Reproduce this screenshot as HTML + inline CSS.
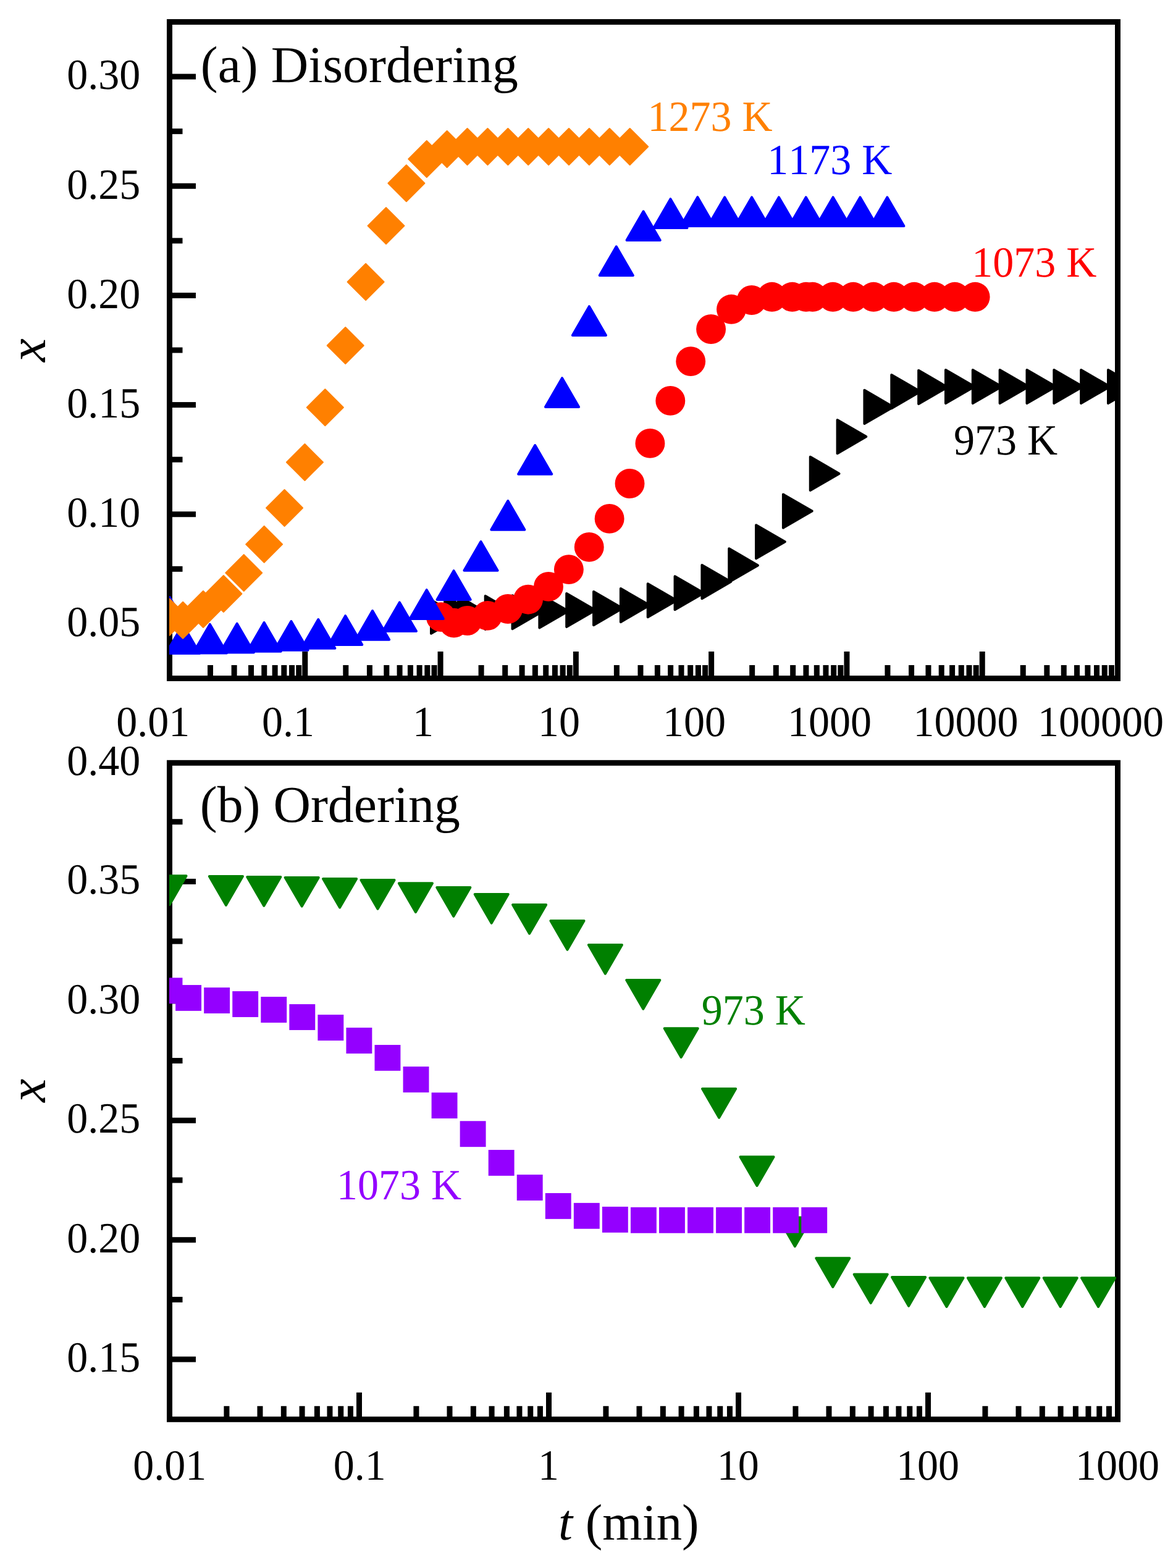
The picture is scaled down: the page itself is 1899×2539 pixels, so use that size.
<!DOCTYPE html>
<html lang="en"><head><meta charset="utf-8"><title>Disordering and ordering kinetics</title>
<style>html,body{margin:0;padding:0;background:#fff;overflow:hidden;width:1899px;height:2539px}svg{display:block}text{white-space:pre;font-kerning:none;font-variant-ligatures:none;text-rendering:geometricPrecision}</style>
</head><body>
<svg width="1899" height="2539" viewBox="0 0 1899 2539" font-family='"Liberation Serif", serif' role="img" aria-label="Disordering and ordering kinetics: x versus t (min)">
<rect width="1899" height="2539" fill="#fff"/>
<defs>
<clipPath id="ca"><rect x="274" y="35.5" width="1536" height="1063"/></clipPath>
<clipPath id="cb"><rect x="274" y="1235.5" width="1536" height="1063"/></clipPath>
</defs>
<g id="panel-a">
<rect x="274.5" y="35.5" width="1535.0" height="1063" fill="none" stroke="#000" stroke-width="9"/>
<rect x="274.5" y="119.58" width="42.5" height="9"/>
<rect x="274.5" y="296.75" width="42.5" height="9"/>
<rect x="274.5" y="473.92" width="42.5" height="9"/>
<rect x="274.5" y="651.08" width="42.5" height="9"/>
<rect x="274.5" y="828.25" width="42.5" height="9"/>
<rect x="274.5" y="1005.42" width="42.5" height="9"/>
<rect x="274.5" y="208.17" width="21.0" height="9"/>
<rect x="274.5" y="385.33" width="21.0" height="9"/>
<rect x="274.5" y="562.5" width="21.0" height="9"/>
<rect x="274.5" y="739.67" width="21.0" height="9"/>
<rect x="274.5" y="916.83" width="21.0" height="9"/>
<rect x="270" y="1055" width="9" height="43.5"/>
<rect x="336.01" y="1077" width="9" height="21.5"/>
<rect x="374.63" y="1077" width="9" height="21.5"/>
<rect x="402.02" y="1077" width="9" height="21.5"/>
<rect x="423.27" y="1077" width="9" height="21.5"/>
<rect x="440.64" y="1077" width="9" height="21.5"/>
<rect x="455.32" y="1077" width="9" height="21.5"/>
<rect x="468.03" y="1077" width="9" height="21.5"/>
<rect x="479.25" y="1077" width="9" height="21.5"/>
<rect x="489.29" y="1055" width="9" height="43.5"/>
<rect x="555.3" y="1077" width="9" height="21.5"/>
<rect x="593.91" y="1077" width="9" height="21.5"/>
<rect x="621.31" y="1077" width="9" height="21.5"/>
<rect x="642.56" y="1077" width="9" height="21.5"/>
<rect x="659.92" y="1077" width="9" height="21.5"/>
<rect x="674.6" y="1077" width="9" height="21.5"/>
<rect x="687.32" y="1077" width="9" height="21.5"/>
<rect x="698.54" y="1077" width="9" height="21.5"/>
<rect x="708.57" y="1055" width="9" height="43.5"/>
<rect x="774.58" y="1077" width="9" height="21.5"/>
<rect x="813.2" y="1077" width="9" height="21.5"/>
<rect x="840.59" y="1077" width="9" height="21.5"/>
<rect x="861.85" y="1077" width="9" height="21.5"/>
<rect x="879.21" y="1077" width="9" height="21.5"/>
<rect x="893.89" y="1077" width="9" height="21.5"/>
<rect x="906.61" y="1077" width="9" height="21.5"/>
<rect x="917.82" y="1077" width="9" height="21.5"/>
<rect x="927.86" y="1055" width="9" height="43.5"/>
<rect x="993.87" y="1077" width="9" height="21.5"/>
<rect x="1032.48" y="1077" width="9" height="21.5"/>
<rect x="1059.88" y="1077" width="9" height="21.5"/>
<rect x="1081.13" y="1077" width="9" height="21.5"/>
<rect x="1098.49" y="1077" width="9" height="21.5"/>
<rect x="1113.18" y="1077" width="9" height="21.5"/>
<rect x="1125.89" y="1077" width="9" height="21.5"/>
<rect x="1137.11" y="1077" width="9" height="21.5"/>
<rect x="1147.14" y="1055" width="9" height="43.5"/>
<rect x="1213.15" y="1077" width="9" height="21.5"/>
<rect x="1251.77" y="1077" width="9" height="21.5"/>
<rect x="1279.17" y="1077" width="9" height="21.5"/>
<rect x="1300.42" y="1077" width="9" height="21.5"/>
<rect x="1317.78" y="1077" width="9" height="21.5"/>
<rect x="1332.46" y="1077" width="9" height="21.5"/>
<rect x="1345.18" y="1077" width="9" height="21.5"/>
<rect x="1356.39" y="1077" width="9" height="21.5"/>
<rect x="1366.43" y="1055" width="9" height="43.5"/>
<rect x="1432.44" y="1077" width="9" height="21.5"/>
<rect x="1471.05" y="1077" width="9" height="21.5"/>
<rect x="1498.45" y="1077" width="9" height="21.5"/>
<rect x="1519.7" y="1077" width="9" height="21.5"/>
<rect x="1537.07" y="1077" width="9" height="21.5"/>
<rect x="1551.75" y="1077" width="9" height="21.5"/>
<rect x="1564.46" y="1077" width="9" height="21.5"/>
<rect x="1575.68" y="1077" width="9" height="21.5"/>
<rect x="1585.71" y="1055" width="9" height="43.5"/>
<rect x="1651.73" y="1077" width="9" height="21.5"/>
<rect x="1690.34" y="1077" width="9" height="21.5"/>
<rect x="1717.74" y="1077" width="9" height="21.5"/>
<rect x="1738.99" y="1077" width="9" height="21.5"/>
<rect x="1756.35" y="1077" width="9" height="21.5"/>
<rect x="1771.03" y="1077" width="9" height="21.5"/>
<rect x="1783.75" y="1077" width="9" height="21.5"/>
<rect x="1794.97" y="1077" width="9" height="21.5"/>
<rect x="1805" y="1055" width="9" height="43.5"/>
<g clip-path="url(#ca)">
<g fill="#000000" stroke="#000000" stroke-width="4.0" stroke-linejoin="round">
<polygon points="698,971.75 744.7,998.8 698,1025.85"/>
<polygon points="720.1,965.05 766.8,992.1 720.1,1019.15"/>
<polygon points="741.84,965.35 788.54,992.4 741.84,1019.45"/>
<polygon points="785.68,964.95 832.38,992 785.68,1019.05"/>
<polygon points="829.52,964.25 876.22,991.3 829.52,1018.35"/>
<polygon points="873.36,962.45 920.06,989.5 873.36,1016.55"/>
<polygon points="917.2,960.95 963.9,988 917.2,1015.05"/>
<polygon points="961.04,958.05 1007.74,985.1 961.04,1012.15"/>
<polygon points="1004.88,953.05 1051.58,980.1 1004.88,1007.15"/>
<polygon points="1048.72,945.15 1095.42,972.2 1048.72,999.25"/>
<polygon points="1092.56,933.15 1139.26,960.2 1092.56,987.25"/>
<polygon points="1136.4,915.05 1183.1,942.1 1136.4,969.15"/>
<polygon points="1180.24,888.35 1226.94,915.4 1180.24,942.45"/>
<polygon points="1224.08,850.25 1270.78,877.3 1224.08,904.35"/>
<polygon points="1267.92,800.55 1314.62,827.6 1267.92,854.65"/>
<polygon points="1311.76,739.85 1358.46,766.9 1311.76,793.95"/>
<polygon points="1355.6,680.05 1402.3,707.1 1355.6,734.15"/>
<polygon points="1399.44,631.85 1446.14,658.9 1399.44,685.95"/>
<polygon points="1443.28,607.05 1489.98,634.1 1443.28,661.15"/>
<polygon points="1487.12,599.85 1533.82,626.9 1487.12,653.95"/>
<polygon points="1530.96,598.95 1577.66,626 1530.96,653.05"/>
<polygon points="1574.8,598.95 1621.5,626 1574.8,653.05"/>
<polygon points="1618.64,598.95 1665.34,626 1618.64,653.05"/>
<polygon points="1662.48,598.95 1709.18,626 1662.48,653.05"/>
<polygon points="1706.32,598.95 1753.02,626 1706.32,653.05"/>
<polygon points="1750.16,598.95 1796.86,626 1750.16,653.05"/>
<polygon points="1794,598.95 1840.7,626 1794,653.05"/>
</g>
<g fill="#FF0000">
<circle cx="713.9" cy="999.1" r="23.95"/>
<circle cx="734.8" cy="1008.6" r="23.95"/>
<circle cx="756.4" cy="1005" r="23.95"/>
<circle cx="789.29" cy="996.9" r="23.95"/>
<circle cx="822.18" cy="986" r="23.95"/>
<circle cx="855.07" cy="970.7" r="23.95"/>
<circle cx="887.96" cy="949.9" r="23.95"/>
<circle cx="920.85" cy="922.1" r="23.95"/>
<circle cx="953.74" cy="885.9" r="23.95"/>
<circle cx="986.63" cy="839.9" r="23.95"/>
<circle cx="1019.52" cy="783" r="23.95"/>
<circle cx="1052.41" cy="717.9" r="23.95"/>
<circle cx="1085.3" cy="648.9" r="23.95"/>
<circle cx="1118.19" cy="585.1" r="23.95"/>
<circle cx="1151.08" cy="533" r="23.95"/>
<circle cx="1183.97" cy="500.8" r="23.95"/>
<circle cx="1216.86" cy="486" r="23.95"/>
<circle cx="1249.75" cy="480.8" r="23.95"/>
<circle cx="1282.64" cy="480.8" r="23.95"/>
<circle cx="1315.53" cy="480.8" r="23.95"/>
<circle cx="1348.42" cy="480.8" r="23.95"/>
<circle cx="1381.31" cy="480.8" r="23.95"/>
<circle cx="1414.2" cy="480.8" r="23.95"/>
<circle cx="1447.09" cy="480.8" r="23.95"/>
<circle cx="1479.98" cy="480.8" r="23.95"/>
<circle cx="1512.87" cy="480.8" r="23.95"/>
<circle cx="1545.76" cy="480.8" r="23.95"/>
<circle cx="1578.65" cy="480.8" r="23.95"/>
<circle cx="1304.9" cy="480.8" r="23.95"/>
</g>
<g fill="#0000FF" stroke="#0000FF" stroke-width="4.0" stroke-linejoin="round">
<polygon points="274.5,967 301.55,1013.7 247.45,1013.7"/>
<polygon points="296,1011.3 323.05,1058 268.95,1058"/>
<polygon points="339.86,1010.9 366.91,1057.6 312.81,1057.6"/>
<polygon points="383.72,1009.8 410.77,1056.5 356.67,1056.5"/>
<polygon points="427.58,1008.1 454.63,1054.8 400.53,1054.8"/>
<polygon points="471.44,1006.1 498.49,1052.8 444.39,1052.8"/>
<polygon points="515.3,1003 542.35,1049.7 488.25,1049.7"/>
<polygon points="559.16,997.2 586.21,1043.9 532.11,1043.9"/>
<polygon points="603.02,989.1 630.07,1035.8 575.97,1035.8"/>
<polygon points="646.88,975.4 673.93,1022.1 619.83,1022.1"/>
<polygon points="690.74,955.2 717.79,1001.9 663.69,1001.9"/>
<polygon points="734.6,924.2 761.65,970.9 707.55,970.9"/>
<polygon points="778.46,877.1 805.51,923.8 751.41,923.8"/>
<polygon points="822.32,811.1 849.37,857.8 795.27,857.8"/>
<polygon points="866.18,721 893.23,767.7 839.13,767.7"/>
<polygon points="910.04,612.2 937.09,658.9 882.99,658.9"/>
<polygon points="953.9,496.2 980.95,542.9 926.85,542.9"/>
<polygon points="997.76,399.3 1024.81,446 970.71,446"/>
<polygon points="1041.62,342.3 1068.67,389 1014.57,389"/>
<polygon points="1085.48,322.2 1112.53,368.9 1058.43,368.9"/>
<polygon points="1129.34,319.2 1156.39,365.9 1102.29,365.9"/>
<polygon points="1173.2,319.4 1200.25,366.1 1146.15,366.1"/>
<polygon points="1217.06,319.4 1244.11,366.1 1190.01,366.1"/>
<polygon points="1260.92,319.4 1287.97,366.1 1233.87,366.1"/>
<polygon points="1304.78,319.4 1331.83,366.1 1277.73,366.1"/>
<polygon points="1348.64,319.4 1375.69,366.1 1321.59,366.1"/>
<polygon points="1392.5,319.4 1419.55,366.1 1365.45,366.1"/>
<polygon points="1436.36,319.4 1463.41,366.1 1409.31,366.1"/>
</g>
<g fill="#FF8000" stroke="#FF8000" stroke-width="2.0" stroke-linejoin="round">
<polygon points="245,999.3 274.5,969.8 304,999.3 274.5,1028.8"/>
<polygon points="266.6,1004.3 296.1,974.8 325.6,1004.3 296.1,1033.8"/>
<polygon points="299.49,986.5 328.99,957 358.49,986.5 328.99,1016"/>
<polygon points="332.38,961.5 361.88,932 391.38,961.5 361.88,991"/>
<polygon points="365.27,927.6 394.77,898.1 424.27,927.6 394.77,957.1"/>
<polygon points="398.16,881.4 427.66,851.9 457.16,881.4 427.66,910.9"/>
<polygon points="431.05,822.5 460.55,793 490.05,822.5 460.55,852"/>
<polygon points="463.94,748.5 493.44,719 522.94,748.5 493.44,778"/>
<polygon points="496.83,659.7 526.33,630.2 555.83,659.7 526.33,689.2"/>
<polygon points="529.72,559.5 559.22,530 588.72,559.5 559.22,589"/>
<polygon points="562.61,456.5 592.11,427 621.61,456.5 592.11,486"/>
<polygon points="595.5,365.6 625,336.1 654.5,365.6 625,395.1"/>
<polygon points="628.39,296.7 657.89,267.2 687.39,296.7 657.89,326.2"/>
<polygon points="661.28,257.5 690.78,228 720.28,257.5 690.78,287"/>
<polygon points="694.17,241.5 723.67,212 753.17,241.5 723.67,271"/>
<polygon points="727.06,237.5 756.56,208 786.06,237.5 756.56,267"/>
<polygon points="759.95,237.5 789.45,208 818.95,237.5 789.45,267"/>
<polygon points="792.84,237.5 822.34,208 851.84,237.5 822.34,267"/>
<polygon points="825.73,237.5 855.23,208 884.73,237.5 855.23,267"/>
<polygon points="858.62,237.5 888.12,208 917.62,237.5 888.12,267"/>
<polygon points="891.51,237.5 921.01,208 950.51,237.5 921.01,267"/>
<polygon points="924.4,237.5 953.9,208 983.4,237.5 953.9,267"/>
<polygon points="957.29,237.5 986.79,208 1016.29,237.5 986.79,267"/>
<polygon points="990.18,237.5 1019.68,208 1049.18,237.5 1019.68,267"/>
</g>
</g>
</g>
<g id="panel-b">
<rect x="274.5" y="1235.3" width="1535.0" height="1063" fill="none" stroke="#000" stroke-width="9"/>
<rect x="274.5" y="1422.93" width="42.5" height="9"/>
<rect x="274.5" y="1616.35" width="42.5" height="9"/>
<rect x="274.5" y="1809.78" width="42.5" height="9"/>
<rect x="274.5" y="2003.2" width="42.5" height="9"/>
<rect x="274.5" y="2196.62" width="42.5" height="9"/>
<rect x="274.5" y="1326.21" width="21.0" height="9"/>
<rect x="274.5" y="1519.64" width="21.0" height="9"/>
<rect x="274.5" y="1713.06" width="21.0" height="9"/>
<rect x="274.5" y="1906.49" width="21.0" height="9"/>
<rect x="274.5" y="2099.91" width="21.0" height="9"/>
<rect x="270" y="2254.8" width="9" height="43.5"/>
<rect x="362.42" y="2276.8" width="9" height="21.5"/>
<rect x="416.48" y="2276.8" width="9" height="21.5"/>
<rect x="454.83" y="2276.8" width="9" height="21.5"/>
<rect x="484.58" y="2276.8" width="9" height="21.5"/>
<rect x="508.89" y="2276.8" width="9" height="21.5"/>
<rect x="529.45" y="2276.8" width="9" height="21.5"/>
<rect x="547.25" y="2276.8" width="9" height="21.5"/>
<rect x="562.95" y="2276.8" width="9" height="21.5"/>
<rect x="577" y="2254.8" width="9" height="43.5"/>
<rect x="669.42" y="2276.8" width="9" height="21.5"/>
<rect x="723.48" y="2276.8" width="9" height="21.5"/>
<rect x="761.83" y="2276.8" width="9" height="21.5"/>
<rect x="791.58" y="2276.8" width="9" height="21.5"/>
<rect x="815.89" y="2276.8" width="9" height="21.5"/>
<rect x="836.45" y="2276.8" width="9" height="21.5"/>
<rect x="854.25" y="2276.8" width="9" height="21.5"/>
<rect x="869.95" y="2276.8" width="9" height="21.5"/>
<rect x="884" y="2254.8" width="9" height="43.5"/>
<rect x="976.42" y="2276.8" width="9" height="21.5"/>
<rect x="1030.48" y="2276.8" width="9" height="21.5"/>
<rect x="1068.83" y="2276.8" width="9" height="21.5"/>
<rect x="1098.58" y="2276.8" width="9" height="21.5"/>
<rect x="1122.89" y="2276.8" width="9" height="21.5"/>
<rect x="1143.45" y="2276.8" width="9" height="21.5"/>
<rect x="1161.25" y="2276.8" width="9" height="21.5"/>
<rect x="1176.95" y="2276.8" width="9" height="21.5"/>
<rect x="1191" y="2254.8" width="9" height="43.5"/>
<rect x="1283.42" y="2276.8" width="9" height="21.5"/>
<rect x="1337.48" y="2276.8" width="9" height="21.5"/>
<rect x="1375.83" y="2276.8" width="9" height="21.5"/>
<rect x="1405.58" y="2276.8" width="9" height="21.5"/>
<rect x="1429.89" y="2276.8" width="9" height="21.5"/>
<rect x="1450.45" y="2276.8" width="9" height="21.5"/>
<rect x="1468.25" y="2276.8" width="9" height="21.5"/>
<rect x="1483.95" y="2276.8" width="9" height="21.5"/>
<rect x="1498" y="2254.8" width="9" height="43.5"/>
<rect x="1590.42" y="2276.8" width="9" height="21.5"/>
<rect x="1644.48" y="2276.8" width="9" height="21.5"/>
<rect x="1682.83" y="2276.8" width="9" height="21.5"/>
<rect x="1712.58" y="2276.8" width="9" height="21.5"/>
<rect x="1736.89" y="2276.8" width="9" height="21.5"/>
<rect x="1757.45" y="2276.8" width="9" height="21.5"/>
<rect x="1775.25" y="2276.8" width="9" height="21.5"/>
<rect x="1790.95" y="2276.8" width="9" height="21.5"/>
<rect x="1805" y="2254.8" width="9" height="43.5"/>
<g clip-path="url(#cb)">
<g fill="#008000" stroke="#008000" stroke-width="4.0" stroke-linejoin="round">
<polygon points="247.45,1418.3 301.55,1418.3 274.5,1465"/>
<polygon points="338.85,1419.1 392.95,1419.1 365.9,1465.8"/>
<polygon points="400.25,1420 454.35,1420 427.3,1466.7"/>
<polygon points="461.65,1420.9 515.75,1420.9 488.7,1467.6"/>
<polygon points="523.05,1422.9 577.15,1422.9 550.1,1469.6"/>
<polygon points="584.45,1425 638.55,1425 611.5,1471.7"/>
<polygon points="645.85,1430.2 699.95,1430.2 672.9,1476.9"/>
<polygon points="707.25,1437.1 761.35,1437.1 734.3,1483.8"/>
<polygon points="768.65,1448.1 822.75,1448.1 795.7,1494.8"/>
<polygon points="830.05,1465 884.15,1465 857.1,1511.7"/>
<polygon points="891.45,1491.1 945.55,1491.1 918.5,1537.8"/>
<polygon points="952.85,1530 1006.95,1530 979.9,1576.7"/>
<polygon points="1014.25,1587.1 1068.35,1587.1 1041.3,1633.8"/>
<polygon points="1075.65,1665.3 1129.75,1665.3 1102.7,1712"/>
<polygon points="1137.05,1763.1 1191.15,1763.1 1164.1,1809.8"/>
<polygon points="1198.45,1873.2 1252.55,1873.2 1225.5,1919.9"/>
<polygon points="1259.85,1971.5 1313.95,1971.5 1286.9,2018.2"/>
<polygon points="1321.25,2037.3 1375.35,2037.3 1348.3,2084"/>
<polygon points="1382.65,2063.4 1436.75,2063.4 1409.7,2110.1"/>
<polygon points="1444.05,2068.1 1498.15,2068.1 1471.1,2114.8"/>
<polygon points="1505.45,2069.2 1559.55,2069.2 1532.5,2115.9"/>
<polygon points="1566.85,2069.3 1620.95,2069.3 1593.9,2116"/>
<polygon points="1628.25,2069.3 1682.35,2069.3 1655.3,2116"/>
<polygon points="1689.65,2069.3 1743.75,2069.3 1716.7,2116"/>
<polygon points="1751.05,2069.3 1805.15,2069.3 1778.1,2116"/>
</g>
<g fill="#9400FF">
<rect x="253.55" y="1583.25" width="41.9" height="41.9"/>
<rect x="284.15" y="1594.95" width="41.9" height="41.9"/>
<rect x="330.2" y="1599.05" width="41.9" height="41.9"/>
<rect x="376.25" y="1605.05" width="41.9" height="41.9"/>
<rect x="422.3" y="1614.05" width="41.9" height="41.9"/>
<rect x="468.35" y="1626.05" width="41.9" height="41.9"/>
<rect x="514.4" y="1643.05" width="41.9" height="41.9"/>
<rect x="560.45" y="1664.05" width="41.9" height="41.9"/>
<rect x="606.5" y="1691.95" width="41.9" height="41.9"/>
<rect x="652.55" y="1727.05" width="41.9" height="41.9"/>
<rect x="698.6" y="1769.15" width="41.9" height="41.9"/>
<rect x="744.65" y="1815.25" width="41.9" height="41.9"/>
<rect x="790.7" y="1861.95" width="41.9" height="41.9"/>
<rect x="836.75" y="1902.05" width="41.9" height="41.9"/>
<rect x="882.8" y="1931.95" width="41.9" height="41.9"/>
<rect x="928.85" y="1947.85" width="41.9" height="41.9"/>
<rect x="974.9" y="1953.95" width="41.9" height="41.9"/>
<rect x="1020.95" y="1954.85" width="41.9" height="41.9"/>
<rect x="1067" y="1954.85" width="41.9" height="41.9"/>
<rect x="1113.05" y="1954.85" width="41.9" height="41.9"/>
<rect x="1159.1" y="1954.85" width="41.9" height="41.9"/>
<rect x="1205.15" y="1954.85" width="41.9" height="41.9"/>
<rect x="1251.2" y="1954.85" width="41.9" height="41.9"/>
<rect x="1297.25" y="1954.85" width="41.9" height="41.9"/>
</g>
</g>
</g>
<g id="labels">
<text transform="translate(108.15 144.3) scale(1 1.025)" font-size="68.0" fill="#000">0.30</text>
<text transform="translate(108.15 321.5) scale(1 1.025)" font-size="68.0" fill="#000">0.25</text>
<text transform="translate(108.15 498.6) scale(1 1.025)" font-size="68.0" fill="#000">0.20</text>
<text transform="translate(108.15 675.8) scale(1 1.025)" font-size="68.0" fill="#000">0.15</text>
<text transform="translate(108.15 853) scale(1 1.025)" font-size="68.0" fill="#000">0.10</text>
<text transform="translate(108.15 1030.1) scale(1 1.025)" font-size="68.0" fill="#000">0.05</text>
<text transform="translate(188.3 1192.2) scale(1 1.025)" font-size="68.0" fill="#000">0.01</text>
<text transform="translate(423.9 1192.2) scale(1 1.025)" font-size="68.0" fill="#000">0.1</text>
<text transform="translate(668.1 1192.2) scale(1 1.025)" font-size="68.0" fill="#000">1</text>
<text transform="translate(871.1 1192.2) scale(1 1.025)" font-size="68.0" fill="#000">10</text>
<text transform="translate(1072.9 1192.2) scale(1 1.025)" font-size="68.0" fill="#000">100</text>
<text transform="translate(1275.1 1192.2) scale(1 1.025)" font-size="68.0" fill="#000">1000</text>
<text transform="translate(1478.5 1192.2) scale(1 1.025)" font-size="68.0" fill="#000">10000</text>
<text transform="translate(1680 1192.2) scale(1 1.025)" font-size="68.0" fill="#000">100000</text>
<text transform="translate(108.15 1255.4) scale(1 1.025)" font-size="68.0" fill="#000">0.40</text>
<text transform="translate(108.15 1447.4) scale(1 1.025)" font-size="68.0" fill="#000">0.35</text>
<text transform="translate(108.15 1640.8) scale(1 1.025)" font-size="68.0" fill="#000">0.30</text>
<text transform="translate(108.15 1834.3) scale(1 1.025)" font-size="68.0" fill="#000">0.25</text>
<text transform="translate(108.15 2027.7) scale(1 1.025)" font-size="68.0" fill="#000">0.20</text>
<text transform="translate(108.15 2221.1) scale(1 1.025)" font-size="68.0" fill="#000">0.15</text>
<text transform="translate(215.3 2396.2) scale(1 1.025)" font-size="68.0" fill="#000">0.01</text>
<text transform="translate(539.8 2396.2) scale(1 1.025)" font-size="68.0" fill="#000">0.1</text>
<text transform="translate(871 2396.2) scale(1 1.025)" font-size="68.0" fill="#000">1</text>
<text transform="translate(1160.7 2396.2) scale(1 1.025)" font-size="68.0" fill="#000">10</text>
<text transform="translate(1450.9 2396.2) scale(1 1.025)" font-size="68.0" fill="#000">100</text>
<text transform="translate(1741.1 2396.2) scale(1 1.025)" font-size="68.0" fill="#000">1000</text>
<text transform="translate(1048.5 212) scale(1 1.025)" font-size="68.0" fill="#FF8000">1273 K</text>
<text transform="translate(1242.3 282.1) scale(1 1.025)" font-size="68.0" fill="#0000FF">1173 K</text>
<text transform="translate(1573.2 448) scale(1 1.025)" font-size="68.0" fill="#FF0000">1073 K</text>
<text transform="translate(1544.1 736.2) scale(1 1.025)" font-size="68.0" fill="#000000">973 K</text>
<text transform="translate(1135.7 1659.3) scale(1 1.025)" font-size="68.0" fill="#008000">973 K</text>
<text transform="translate(544.9 1942) scale(1 1.025)" font-size="68.0" fill="#9400FF">1073 K</text>
<text x="324.75" y="133" font-size="83.8" fill="#000">(a) Disordering</text>
<text x="323.75" y="1331.3" font-size="83.8" fill="#000">(b) Ordering</text>
<text x="903.99" y="2493" font-size="82.8" fill="#000"><tspan font-style="italic">t</tspan> (min)</text>
<text x="73" y="585.9" font-size="85.5" fill="#000" font-style="italic" transform="rotate(-90 73 585.9)">x</text>
<text x="73" y="1784.8" font-size="85.5" fill="#000" font-style="italic" transform="rotate(-90 73 1784.8)">x</text>
</g>
</svg>
</body></html>
